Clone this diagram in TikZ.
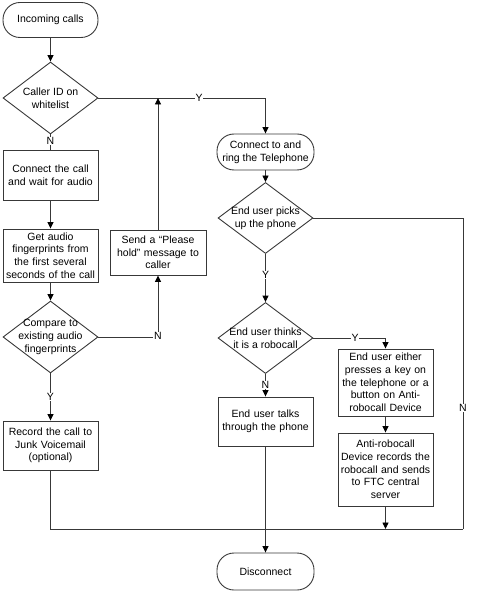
\documentclass[tikz,border=0pt]{standalone}
\usepackage{fontspec}
\setmainfont{Liberation Sans}
\usetikzlibrary{shapes.geometric,arrows.meta}
\definecolor{ln}{gray}{0.22}
\begin{document}
\begin{tikzpicture}[x=1pt,y=-1pt,
  every node/.style={font=\fontsize{10.5pt}{12.7pt}\selectfont, text=black},
  term/.style={draw=ln, line width=0.9pt, rectangle, rounded corners=17pt, minimum width=95pt, minimum height=35pt, align=center, inner sep=1pt},
  procbox/.style={draw=ln, line width=0.9pt, rectangle, minimum width=95pt, align=center, text width=92pt, inner sep=1pt},
  dec/.style={draw=ln, line width=0.9pt, diamond, minimum width=95pt, minimum height=72pt, inner sep=0pt},
  lab/.style={fill=white, inner sep=0.8pt},
  conn/.style={draw=ln, line width=0.9pt},
  arr/.style={conn, -{Triangle[length=6.5pt,width=6pt,color=black]}}
]
\useasboundingbox (0,0) rectangle (493,593);
% nodes
\node[term] (start) at (50.5,20) {Incoming calls};
\node[dec, label={[align=center]center:Caller ID on\\whitelist}] (wl) at (50.5,98) {};
\node[procbox, minimum height=50pt] (cn) at (50.5,175) {Connect the call\\and wait for audio};
\node[procbox, minimum height=53pt] (fp) at (50.5,255.5) {Get audio\\fingerprints from\\the first several\\seconds of the call};
\node[dec, label={[align=center]center:Compare to\\existing audio\\fingerprints}] (cmp) at (50.5,337) {};
\node[procbox, minimum height=49pt] (rec) at (50.5,445.5) {Record the call to\\Junk Voicemail\\(optional)};
\node[procbox, minimum width=96pt, minimum height=45pt] (hold) at (158,252.5) {Send a \textquotedblleft Please\\hold\textquotedblright\ message to\\caller};
\node[term, minimum width=97pt, minimum height=36pt] (ring) at (265.5,152) {Connect to and\\ring the Telephone};
\node[dec, minimum height=71pt, label={[align=center]center:End user picks\\up the phone}] (picks) at (265.5,218) {};
\node[dec, minimum height=71pt, label={[align=center]center:End user thinks\\it is a robocall}] (robo) at (265.5,338) {};
\node[procbox, minimum height=49pt] (talk) at (265.5,421.5) {End user talks\\through the phone};
\node[procbox, minimum height=67pt] (either) at (385.5,382.5) {End user either\\presses a key on\\the telephone or a\\button on Anti-\\robocall Device};
\node[procbox, minimum height=73pt] (anti) at (385.5,469.5) {Anti-robocall\\Device records the\\robocall and sends\\to FTC central\\server};
\node[term, minimum width=97pt, minimum height=37pt] (disc) at (265.5,571.5) {Disconnect};
\coordinate (wlr) at (265.5,98);
\coordinate (holdtop) at (158,98);
\coordinate (cmpc) at (158,337);
\coordinate (robc) at (385.5,338);
\coordinate (rr) at (463,218);
\coordinate (rb) at (463,529);
\coordinate (lb) at (50.5,529);
\coordinate (ab) at (385.5,529);
% connectors
\draw[arr] (start) -- (wl);
\draw[arr] (wl.east) -- (wlr) -- (ring.north);
\node[lab] at (199,98) {Y};
\draw[conn] (wl.south) -- (cn.north);
\node[lab] at (50.5,141) {N};
\draw[arr] (cn) -- (fp);
\draw[arr] (fp) -- (cmp);
\draw[arr] (cmp.east) -- (cmpc) -- (hold.south);
\node[lab] at (158,336) {N};
\draw[arr] (hold.north) -- (holdtop);
\draw[arr] (cmp.south) -- (rec.north);
\node[lab] at (50.5,397) {Y};
\draw[conn] (rec.south) -- (lb) -- (rb);
\draw[conn] (picks.east) -- (rr) -- (rb);
\node[lab] at (463,408) {N};
\draw[arr] (ring) -- (picks);
\draw[arr] (picks.south) -- (robo.north);
\node[lab] at (265.5,275) {Y};
\draw[arr] (robo.east) -- (robc) -- (either.north);
\node[lab] at (355,338) {Y};
\draw[arr] (robo.south) -- (talk.north);
\node[lab] at (265.5,385) {N};
\draw[arr] (either) -- (anti);
\draw[arr] (anti.south) -- (ab);
\draw[arr] (talk.south) -- (disc.north);
\end{tikzpicture}
\end{document}
